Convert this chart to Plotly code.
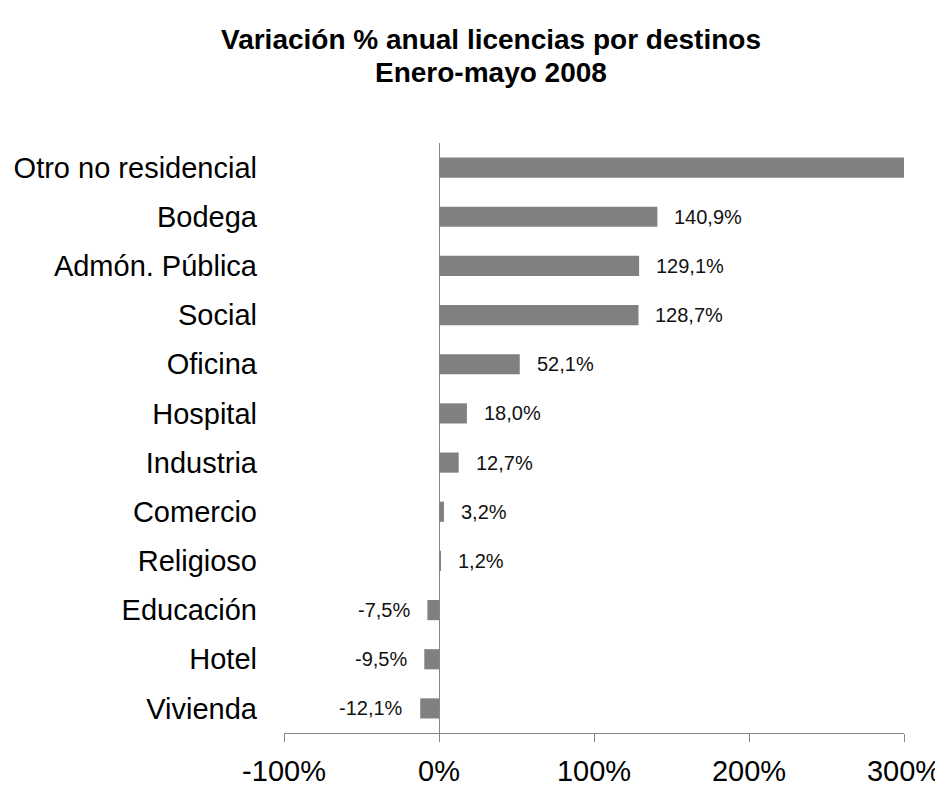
import plotly.graph_objects as go

categories = ["Otro no residencial", "Bodega", "Admón. Pública", "Social", "Oficina",
              "Hospital", "Industria", "Comercio", "Religioso", "Educación", "Hotel", "Vivienda"]
values = [300.0, 140.9, 129.1, 128.7, 52.1, 18.0, 12.7, 3.2, 1.2, -7.5, -9.5, -12.1]
labels = ["", "140,9%", "129,1%", "128,7%", "52,1%", "18,0%", "12,7%", "3,2%", "1,2%",
          "-7,5%", "-9,5%", "-12,1%"]
tick_vals = [-100, 0, 100, 200, 300]
tick_text = ["-100%", "0%", "100%", "200%", "300%"]
title_lines = ["Variación % anual licencias por destinos", "Enero-mayo 2008"]

FONT = "Liberation Sans, Arial"

fig = go.Figure()
fig.add_trace(go.Bar(
    y=categories, x=values, orientation="h",
    marker=dict(color="#808080", line=dict(width=0)),
    width=0.41, hoverinfo="x+y",
))

for c, v, t in zip(categories, values, labels):
    if not t:
        continue
    fig.add_annotation(
        x=v, y=c, text=t, showarrow=False,
        xanchor="left" if v >= 0 else "right",
        xshift=15 if v >= 0 else -15,
        font=dict(family=FONT, size=20, color="#111111"),
    )

for line, ypos in zip(title_lines, [1.1746, 1.1203]):
    fig.add_annotation(
        xref="paper", yref="paper", x=0.3339, y=ypos,
        xanchor="center", yanchor="middle", showarrow=False,
        text="<b>" + line + "</b>",
        font=dict(family=FONT, size=28, color="black"),
    )

fig.update_layout(
    width=935, height=779,
    paper_bgcolor="white", plot_bgcolor="white",
    margin=dict(l=276, r=39, t=135, b=54, autoexpand=False),
    showlegend=False,
    font=dict(family=FONT, color="black"),
)
fig.update_xaxes(
    range=[-100, 300], tickvals=tick_vals, ticktext=tick_text,
    showgrid=False, showline=True, linecolor="#868686", linewidth=1,
    ticks="outside", ticklen=8, tickcolor="#868686", tickwidth=1,
    zeroline=True, zerolinecolor="#868686", zerolinewidth=1,
    tickfont=dict(size=29, color="black"), ticklabelstandoff=4,
    automargin=False,
)
fig.update_yaxes(
    categoryorder="array", categoryarray=categories[::-1],
    showgrid=False, showline=False, ticks="",
    tickfont=dict(size=29, color="black"), ticklabelstandoff=26,
    automargin=False,
)

fig.write_html("out.html")
